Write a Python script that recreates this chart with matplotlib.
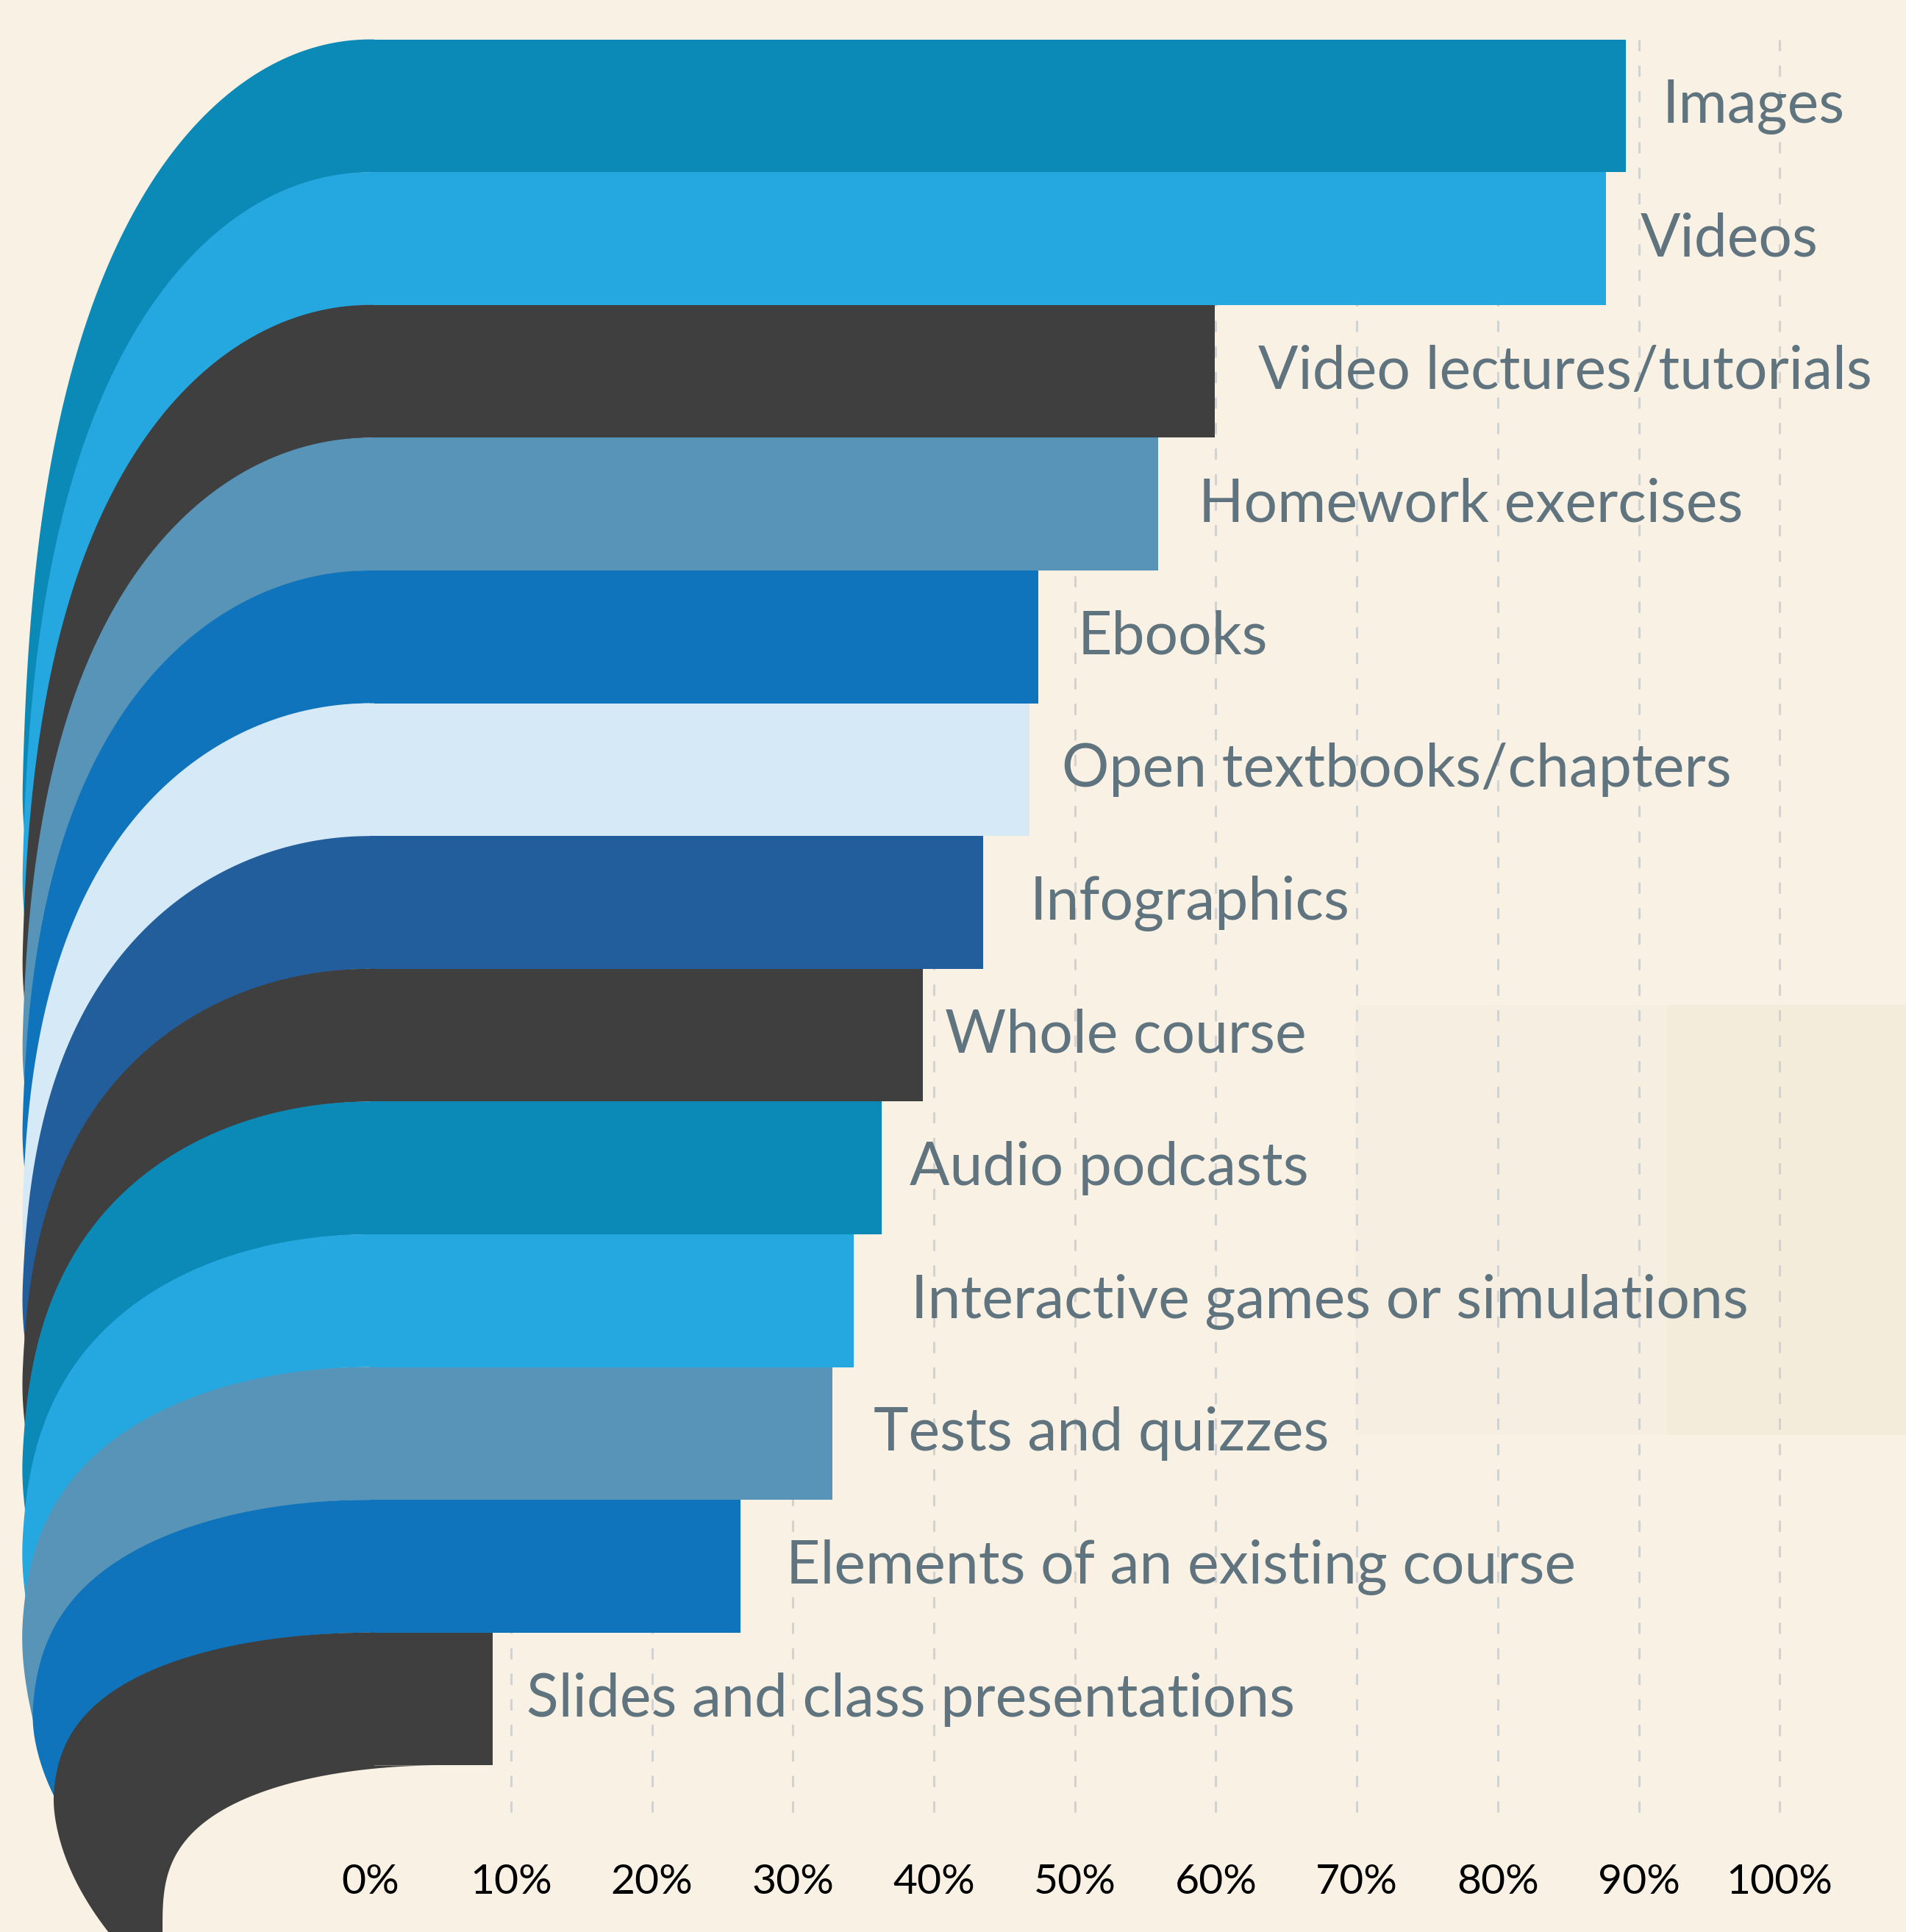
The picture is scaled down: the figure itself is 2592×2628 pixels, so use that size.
import numpy as np
import matplotlib
matplotlib.use('Agg')
import matplotlib.pyplot as plt
from matplotlib.patches import Polygon, Rectangle

# ── data ──
categories = ['Images', 'Videos', 'Video lectures/tutorials', 'Homework exercises',
              'Ebooks', 'Open textbooks/chapters', 'Infographics', 'Whole course',
              'Audio podcasts', 'Interactive games or simulations', 'Tests and quizzes',
              'Elements of an existing course', 'Slides and class presentations']
values = [89.1, 87.7, 59.9, 55.9, 47.4, 46.8, 43.5, 39.2, 36.3, 34.3, 32.8, 26.3, 8.7]
tick_values = [0, 10, 20, 30, 40, 50, 60, 70, 80, 90, 100]
tick_labels = [f'{t}%' for t in tick_values]

# ── style ──
BG = '#f9f1e4'
colors = ['#0b8ab7', '#25a8e0', '#3f3f3f', '#5794b7', '#0f74bc', '#d6e9f6', '#225e9b',
          '#3f3f3f', '#0b8ab7', '#25a8e0', '#5794b7', '#0f74bc', '#3f3f3f']
label_gap = [2.6, 2.4, 3.1, 2.9, 2.8, 2.3, 3.3, 1.6, 2.0, 4.1, 2.9, 3.2, 2.4]
LABEL_COLOR = '#5f747e'
plt.rcParams['lines.scale_dashes'] = False

n = len(values)

# tail geometry (x in %, y in bar units)
depth = [7.03 - 0.463 * i for i in range(n)]
x_left = [-24.74] * (n - 2) + [-24.0, -22.5]
bend = [1.53] * (n - 2) + [3.4, 3.4]


def edge_x(y, y0, xl, d, k, xs=0.0):
    # sweep from (xs, y0) down to the left wall xl, then curl back to the right
    w = np.clip((y - y0) / d, 0, 1)
    s = np.sqrt(1 - (1 - w) ** 3)
    x = xl + (xs - xl) * (1 - s)
    t = np.clip(y - (y0 + 0.8 * d), 0, None)
    return x + k * t ** 2


def outer(i, y):
    return edge_x(y, i - 0.5, x_left[i], depth[i], bend[i])


def inner_last(y):
    return edge_x(y, n - 0.5, -14.72, 1.235, 0.0, xs=5.04)


fig = plt.figure(figsize=(25.92, 26.28), dpi=100)
fig.patch.set_facecolor(BG)
ax = fig.add_axes([0, 0, 1, 1])
ax.set_facecolor(BG)
ax.set_xlim(-26.25, 108.96)
ax.set_ylim(13.755, -0.797)
ax.axis('off')

# faint panels in the background
ax.add_patch(Rectangle((69.9, 6.77), 50, 3.24, facecolor='#f6eee0', edgecolor='none', zorder=0))
ax.add_patch(Rectangle((92.0, 6.77), 30, 3.24, facecolor='#f4ecdb', edgecolor='none', zorder=0))

# dashed grid
for t in tick_values[1:]:
    ax.plot([t, t], [-0.5, 12.95], color='#d3d2d3', lw=2.2, dashes=(11, 14),
            solid_capstyle='butt', zorder=1)

# ribbons: bar + curled tail
for i in range(n):
    y0, y1 = i - 0.5, i + 0.5
    ya = np.unique(np.concatenate([y0 + depth[i] * np.linspace(0, 1, 500) ** 2,
                                   np.linspace(y0, y1, 200)]))
    ya = ya[ya <= y1]
    d_next = depth[i + 1] if i + 1 < n else 1.235
    yb = np.unique(np.concatenate([y1 + d_next * np.linspace(0, 1, 500) ** 2,
                                   np.linspace(y1, 14.2, 2500)]))
    xa = outer(i, ya)
    xb_l = outer(i, yb)
    if i + 1 < n:
        xb_r = outer(i + 1, yb) + 0.3
    else:
        xb_r = inner_last(yb)
    bad = np.where(xb_l[1:] >= xb_r[1:])[0]
    if len(bad):
        j = bad[0] + 1
        yb, xb_l, xb_r = yb[:j + 1], xb_l[:j + 1], xb_r[:j + 1]
    right = [(0.3, y0), (0.3, y1)] + list(zip(xb_r, yb))
    left = list(zip(xb_l[::-1], yb[::-1])) + list(zip(xa[::-1], ya[::-1]))
    ax.add_patch(Polygon(right + left, closed=True, facecolor=colors[i],
                         edgecolor='none', zorder=2 + i))
    ax.barh(i, values[i], height=1.0, left=0, color=colors[i], edgecolor='none',
            zorder=2 + i)
    ax.text(values[i] + label_gap[i], i + 0.13, categories[i], fontsize=58,
            family='Lato', color=LABEL_COLOR, va='baseline', ha='left', zorder=30)

for t, lab in zip(tick_values, tick_labels):
    ax.text(t, 13.38, lab, fontsize=41, family='Lato', color='black',
            ha='center', va='center', zorder=30)

fig.savefig('out.png', dpi=100, facecolor=BG)
